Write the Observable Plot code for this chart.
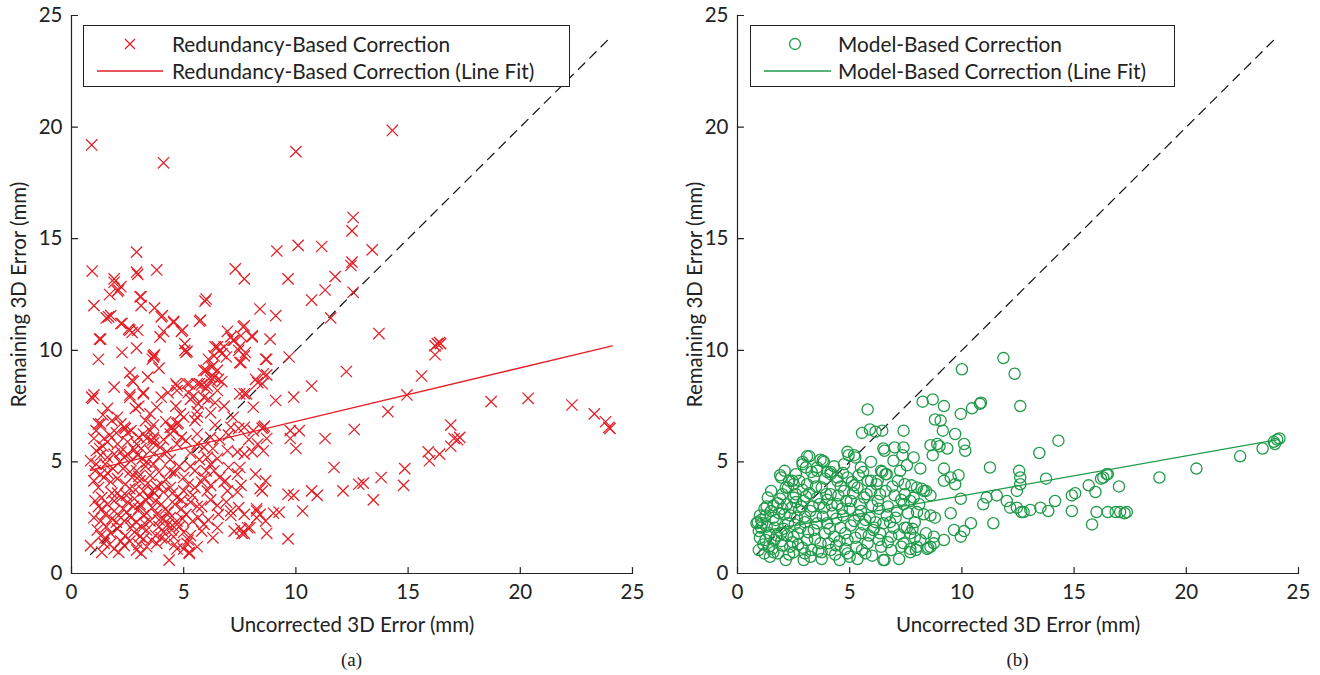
<!DOCTYPE html>
<html><head><meta charset="utf-8">
<script src="https://cdn.jsdelivr.net/npm/d3@7"></script>
<script src="https://cdn.jsdelivr.net/npm/@observablehq/plot@0.6"></script>
<style>
body{margin:0;background:#fff;font-family:Lato,sans-serif;color:#222;}
#wrap{position:relative;width:1320px;height:675px;overflow:hidden;}
.panel{position:absolute;top:0;width:660px;height:675px;}
.legend{position:absolute;border:1px solid #222;background:#fff;box-sizing:border-box;font-family:Lato,sans-serif;font-size:20.8px;color:#222;}
.legend .row{position:absolute;left:0;height:26px;line-height:26px;white-space:nowrap;}
.legend svg{position:absolute;top:0;}
.legend span{position:absolute;top:0;}
.caption{position:absolute;top:649px;font-family:"Liberation Serif",serif;font-size:19px;transform:translateX(-50%);}
</style></head>
<body><div id="wrap"></div>
<script>
// ---------- data ----------
const xTicks = [0, 5, 10, 15, 20, 25];
const yTicks = [0, 5, 10, 15, 20, 25];
const xLabel = "Uncorrected 3D Error (mm)";
const yLabel = "Remaining 3D Error (mm)";
const diagonal = [[0.85, 0.85], [24.1, 24.1]];
const redFit = [[0.85, 4.62], [24.1, 10.2]];
const greenFit = [[0.85, 1.85], [24.1, 6.0]];
const legendRed = ["Redundancy-Based Correction", "Redundancy-Based Correction (Line Fit)"];
const legendGreen = ["Model-Based Correction", "Model-Based Correction (Line Fit)"];
const captions = ["(a)", "(b)"];

const redPoints = [
[0.9,19.2],[4.1,18.4],[10.0,18.9],[14.3,19.85],
[0.92,13.55],[2.9,14.4],[2.9,13.5],[2.95,13.4],[3.8,13.6],[1.9,13.2],[2.1,12.7],[2.05,12.65],[1.7,12.5],[1.0,12.0],[3.1,12.4],[3.1,12.0],[3.7,11.9],[4.0,11.5],[1.65,11.5],[1.55,11.45],[2.25,11.2],[2.6,10.9],[2.55,10.95],[2.95,10.9],[1.3,10.5],[1.2,9.6],[2.25,9.9],[2.9,10.1],[3.95,10.6],[4.1,10.85],[4.55,11.3],[4.9,10.85],[5.05,10.3],[5.1,9.9],[3.65,9.7],[3.7,9.8],[3.6,9.6],[2.6,9.0],[2.75,8.6],[1.9,8.35],[3.2,8.1],[2.6,8.0],[1.0,8.0],[0.9,7.9],[0.95,7.85],[5.7,11.3],[6.0,12.3],[5.95,12.2],[7.3,13.65],[7.7,13.2],[8.4,11.85],[9.1,11.55],[7.65,11.05],[8.05,10.65],[6.95,10.85],[7.2,10.45],[7.1,10.6],[8.85,10.5],[6.4,10.15],[6.6,10.0],[6.7,9.85],[6.1,9.6],[6.3,9.3],[6.0,9.1],[7.5,10.15],[7.75,9.9],[7.5,9.45],[8.7,9.6],[9.7,9.7],[9.15,14.45],[10.1,14.7],[11.15,14.65],[12.55,15.95],[12.5,15.35],[12.5,13.95],[12.45,13.8],[9.65,13.2],[11.75,13.3],[11.3,12.7],[10.7,12.25],[11.55,11.45],[12.55,12.6],[12.25,9.05],[10.7,8.4],[9.9,7.9],[8.3,8.55],[8.55,8.95],[8.7,8.9],[7.5,8.05],[7.8,8.05],[5.7,8.5],[6.2,8.8],[6.5,9.1],[6.7,8.6],[4.65,8.5],[4.7,8.2],[5.15,8.5],[5.2,8.1],[5.6,8.5],[5.8,8.45],[6.0,8.3],
[13.4,14.5],[13.7,10.75],[16.3,10.3],[16.2,10.2],[16.4,10.35],[16.45,10.3],[16.2,9.8],[15.6,8.85],[14.95,8.0],[14.1,7.25],[18.7,7.7],[20.35,7.85],[22.3,7.55],[23.3,7.15],[23.8,6.8],[23.95,6.55],[24.0,6.5],[12.6,6.45],[16.9,6.65],[17.05,6.05],[17.2,6.0],[16.9,5.7],[17.3,6.1],[15.9,5.45],[15.95,5.05],[16.4,5.35],[14.85,4.7],[14.8,3.95],[13.8,4.3],[13.0,4.05],[13.45,3.3],[12.1,3.7],
[1.9,13.05],[2.2,12.85],[3.05,12.4],[4.05,11.55],[1.75,11.55],[2.2,11.2],[2.7,10.8],[4.55,11.25],[4.95,10.9],[5.75,11.35],[7.7,11.1],[8.05,10.6],[7.55,10.65],[7.25,10.45],[6.8,10.15],[6.5,10.15],[6.35,9.75],[6.9,9.7],[7.45,10.0],[7.7,9.75],[7.55,9.45],[5.15,9.95],[5.05,10.0],[8.65,9.6],[1.25,10.5],[3.65,9.75],[2.7,8.65],[5.9,9.1],[6.25,9.25],[6.35,8.8],[6.2,8.65],[6.55,8.7],[4.7,8.4],[5.25,8.5],[6.05,8.4],[6.5,8.2],[2.6,7.9],[3.2,8.05],[3.0,7.5],[2.85,7.4],[1.6,7.4],[2.05,7.0],[1.8,6.85],[1.3,6.7],[2.35,6.55],[3.8,7.45],[3.5,7.15],[3.3,6.85],[3.65,6.65],[4.65,7.5],[4.85,7.15],[4.7,6.7],[4.4,6.55],[5.3,7.8],[5.45,7.95],[5.65,7.6],[5.6,7.25],[5.5,6.85],[5.9,7.9],[6.1,7.8],[6.4,7.65],[6.4,6.65],[7.7,8.05],[8.1,7.45],[8.2,8.7],[8.5,8.5],[8.55,6.55],
[1.2,6.7],[2.2,6.7],[2.4,6.5],[2.65,6.4],[4.75,6.75],[4.5,6.55],[4.55,6.4],[4.4,6.25],[3.5,6.4],[3.65,6.1],[3.6,5.95],[1.0,6.05],[1.45,6.05],[2.05,5.8],[2.9,5.8],[3.65,5.85],[3.2,6.25],[3.35,6.05],[3.95,5.65],[4.25,5.45],[4.7,5.8],[5.1,5.95],[5.6,6.25],[5.6,5.8],[5.9,5.65],[7.1,6.55],[7.45,6.5],[7.7,6.55],[8.1,6.4],[6.95,5.5],[7.4,5.45],[7.7,5.35],[8.05,5.45],[8.55,5.5],[8.7,6.05],[6.05,5.2],[6.2,4.9],[6.35,4.6],[6.5,5.15],[7.0,4.75],[7.5,4.75],[7.4,4.45],[8.2,4.45],[8.5,3.7],[8.65,4.15],[6.8,4.1],[6.95,3.7],[7.4,3.65],[6.2,3.95],[6.5,3.05],[6.55,2.65],[7.1,2.8],[7.45,2.95],[7.7,2.65],[8.25,2.8],[8.25,2.5],[8.65,2.35],[6.5,2.05],[7.25,1.9],[7.55,2.0],[7.7,1.8],[7.95,2.05],[8.7,1.8],[4.35,0.6],[5.0,1.1],[5.25,0.95],[5.15,1.35],
[0.85,5.05],[1.05,4.6],[1.3,5.3],[1.6,5.2],[1.9,5.35],[2.2,5.45],[2.35,5.2],[2.5,5.35],[2.65,5.05],[2.95,5.3],[3.15,5.15],[3.35,5.0],[3.65,4.9],[1.0,4.15],[1.2,3.85],[1.45,4.3],[1.75,4.1],[2.05,4.25],[2.4,4.0],[2.7,4.3],[3.05,4.15],[3.5,4.4],[3.9,4.55],[1.05,3.25],[1.35,3.4],[1.6,3.1],[1.9,3.25],[2.2,3.4],[2.5,3.2],[2.8,3.35],[3.05,3.1],[3.45,3.4],[3.75,3.25],[4.1,3.65],[4.4,3.85],[4.7,3.4],[5.0,3.7],[5.2,4.0],[5.5,3.85],[5.8,4.1],[6.05,3.7],[1.0,2.5],[1.3,2.35],[1.5,2.65],[1.8,2.45],[2.1,2.6],[2.35,2.35],[2.65,2.5],[2.9,2.3],[3.2,2.6],[3.5,2.35],[3.8,2.65],[4.1,2.45],[4.4,2.5],[4.7,2.35],[5.1,2.65],[5.4,2.35],[5.65,2.5],[1.15,1.95],[1.75,1.8],[2.05,2.0],[2.4,1.7],[2.8,1.85],[3.05,1.65],[3.35,1.95],[3.75,1.7],[4.1,1.85],[4.55,1.65],[5.0,1.85],[5.3,1.7],[0.85,1.25],[1.45,1.35],[1.9,1.1],[2.35,1.25],[2.9,1.05],[3.35,1.2],[3.8,1.35],[4.7,1.1],[5.25,0.9],
[9.1,7.75],[9.75,6.4],[10.15,6.4],[10.0,5.6],[9.75,6.05],[8.6,6.6],[8.5,6.5],[11.3,6.05],[11.7,4.75],[12.8,4.0],[10.95,3.5],[10.7,3.7],[10.3,2.8],[9.9,3.5],[9.65,3.55],[9.25,2.75],[9.0,2.7],[8.4,3.8],[9.65,1.55],[7.85,2.05],[7.6,1.8],[8.25,2.9],[8.4,2.65],[7.1,2.6],[6.85,4.15],[7.55,3.95],
[1.4,5.7],[1.7,6.2],[2.5,5.9],[2.8,5.55],[3.1,5.6],[4.1,6.0],[4.9,6.1],[5.3,5.4],[1.25,5.6],[4.4,5.1],[4.8,4.8],[5.5,4.6],[5.9,4.3],[6.6,4.3],[2.3,4.7],[2.9,4.6],[3.3,4.8],[1.6,4.5],[4.2,4.2],[4.6,4.5],[3.2,3.7],[2.6,3.8],[1.8,3.6],[3.8,3.9],[4.6,3.1],[5.3,3.2],[5.8,3.0],[2.3,2.9],[3.0,2.9],[3.6,2.95],[4.2,2.9],[4.9,2.9],[1.35,2.9],[2.7,2.15],[3.25,2.25],[3.9,2.1],[4.5,2.15],[2.2,1.45],[3.2,1.55],[4.2,1.5],[1.5,1.6],[6.1,2.4],[5.8,1.9],[6.2,6.1],[5.7,5.1],[6.0,4.6],
[1.1,5.5],[1.5,4.9],[1.85,4.7],[2.15,5.0],[2.6,4.55],[3.0,4.35],[3.4,4.05],[3.7,3.6],[4.0,3.1],[4.3,2.75],[4.8,2.1],[5.2,1.5],[1.2,3.0],[1.55,2.1],[1.9,2.8],[2.45,2.75],[2.75,3.0],[3.35,2.7],[3.9,2.4],[4.3,2.2],[1.3,1.7],[1.7,1.3],[2.6,1.45],[3.0,1.3],[3.55,1.5],[4.0,1.6],[4.45,1.95],[2.05,3.6],[2.45,3.5],[2.85,3.75],[3.3,3.3],[3.6,3.7],[4.0,4.0],[4.5,3.6],[4.9,3.3],[5.4,3.5],[5.6,3.0],[5.0,4.3],[5.3,4.8],[4.4,4.6],[3.9,5.2],[3.5,5.5],[3.0,6.1],[2.5,6.3],[2.0,6.3],[1.6,5.9],[1.1,6.4],[1.4,7.1],[4.2,6.8],[5.0,7.0],[4.0,7.9],[4.3,8.1],[3.4,8.8],[3.9,9.2],[5.6,7.0],[6.2,7.2],[6.8,7.5],[7.2,7.0],[6.6,6.0],[7.0,6.2],[7.9,6.0],[8.3,5.8],[6.3,5.6],[6.9,3.2],[6.2,3.3],[5.9,2.2],[6.3,1.6],[5.6,1.2],[4.6,1.3],[3.1,0.9],[2.1,0.95],[1.35,0.95],[4.95,2.45],[2.0,2.3],[3.15,2.05],[1.1,4.9],[1.3,4.45]
];

const greenPoints = [
[11.85,9.65],[10.0,9.15],[12.35,8.95],[12.6,7.5],[10.85,7.65],[10.8,7.6],[10.45,7.4],[9.95,7.15],[8.25,7.7],[8.7,7.8],[9.2,7.5],[5.8,7.35],[5.55,6.3],[5.9,6.45],[6.15,6.35],[6.45,6.4],[7.4,6.4],[8.8,6.9],[9.05,6.85],[9.15,6.4],[9.7,6.25],[10.1,5.8],[10.15,5.5],[8.6,5.75],[8.9,5.8],[9.35,5.6],[8.7,5.3],[9.0,5.7],[6.5,5.6],[6.95,5.05],[7.4,5.65],[7.85,5.2],[7.55,4.85],[8.15,4.7],[7.25,4.6],[9.2,4.7],[9.5,4.3],[9.85,4.4],[9.2,4.15],[9.7,4.0],[11.25,4.75],[4.95,5.3],[5.25,5.2],[4.75,4.9],[3.2,5.25],[3.7,5.1],[3.85,5.0],[1.9,4.4],[2.45,4.15],[2.9,4.9],[3.05,4.75],[3.55,4.6],[4.15,4.45],[4.45,4.3],[5.6,4.55],[6.45,4.55],[6.65,4.45],[5.95,4.15],[6.2,4.0],[7.75,3.95],[8.2,3.8],[8.4,3.7],[9.95,3.35],[10.4,2.25],[10.1,1.9],[9.95,1.65],[9.5,2.7],[9.65,1.95],[9.2,1.5],[8.75,1.35],[8.6,1.2],[8.45,1.1],[8.5,1.15],[7.55,2.05],[7.8,2.0],[8.6,2.6],[8.8,2.5],[8.15,1.5],[7.95,1.05],[7.7,0.95],[6.5,0.6],[7.2,0.65],[6.85,1.05],[7.4,1.35],[6.95,2.05],[6.35,1.8],[6.05,1.95],[6.65,2.6],[7.1,2.8],[7.4,3.1],[7.85,3.4],[11.4,2.25],[10.95,3.1],[11.1,3.4],[11.55,3.5],[12.0,3.25],[12.45,2.95],[12.75,2.75],[12.55,4.6],[12.6,4.3],[12.6,4.0],[12.45,3.7],
[14.3,5.95],[13.45,5.4],[15.65,3.95],[15.95,3.65],[16.3,4.3],[16.45,4.45],[16.5,4.45],[16.2,4.25],[17.0,3.9],[13.75,4.25],[14.15,3.25],[13.85,2.8],[13.5,2.95],[13.05,2.85],[12.65,2.75],[12.15,2.95],[14.9,3.5],[15.05,3.6],[14.9,2.8],[16.0,2.75],[16.5,2.75],[16.85,2.75],[17.05,2.75],[17.25,2.7],[17.35,2.75],[15.8,2.2],[18.8,4.3],[20.45,4.7],[22.4,5.25],[23.4,5.6],[23.9,5.9],[24.05,6.0],[24.15,6.05],[23.95,5.8],
[6.55,5.5],[7.0,5.65],[7.35,5.3],[4.9,5.45],[5.2,5.3],[5.95,5.0],[6.4,4.6],[6.6,4.45],[3.1,5.25],[2.9,5.0],[3.8,5.05],[3.55,4.75],[4.0,4.55],[1.95,4.3],[2.3,4.15],[2.5,4.0],[2.0,3.55],[2.25,3.85],[0.9,2.3],[1.1,2.25],[1.05,2.05],[0.95,1.05],[1.2,0.9],[1.4,1.2],[1.5,2.8],[1.4,1.8],[1.65,1.5],
[1.8,3.15],[2.1,2.65],[2.4,2.95],[2.65,2.5],[2.95,3.25],[3.25,2.8],[3.55,3.4],[3.85,2.95],[4.15,3.55],[4.45,3.1],[4.75,3.7],[5.05,3.25],[5.35,3.85],[5.65,3.4],[5.95,3.7],[6.25,3.25],[6.6,3.7],[7.0,3.5],[7.45,3.55],[7.7,3.25],
[1.65,2.05],[1.95,1.8],[2.25,2.25],[2.5,1.65],[2.8,2.05],[3.1,1.5],[3.4,1.95],[3.7,1.35],[4.0,2.25],[4.3,1.65],[4.6,2.05],[4.9,1.5],[5.2,2.35],[5.5,1.8],[5.8,1.35],[6.1,2.05],[6.4,1.2],[6.85,1.65],
[1.8,0.9],[2.15,0.6],[2.5,0.95],[2.95,0.6],[3.3,1.05],[3.75,0.65],[4.15,1.05],[4.55,0.6],[4.9,0.9],[5.35,0.65],[5.7,0.9],[6.55,0.6],
[1.35,3.4],[1.5,3.7],[2.15,3.85],[2.75,4.15],[3.1,4.0],[3.4,4.3],[2.6,3.55],[3.75,3.85],[4.45,4.15],[4.9,4.3],[4.15,4.55],[5.4,4.4],[5.8,4.15],[6.25,4.15],[7.15,4.15],[7.45,4.0],[8.0,3.85],[8.3,3.7],[8.6,3.5],[8.0,2.75],[8.3,2.65],[8.4,1.8],[8.75,1.65],[7.45,2.05],[7.7,1.8],[7.3,1.2],[7.7,1.1],[8.0,1.2],
[1.0,1.6],[1.25,2.6],[1.7,2.4],[2.0,2.9],[2.35,1.2],[2.7,1.3],[3.0,2.3],[3.2,3.6],[3.5,2.55],[3.9,1.8],[4.25,2.7],[4.7,2.6],[5.0,2.9],[5.5,2.8],[5.9,2.5],[6.3,2.9],[3.0,0.9],[4.4,1.25],[2.2,1.7],[1.55,1.1],[1.3,3.0],[2.85,3.0],[4.0,3.3],[5.3,1.2],[6.7,3.0],[5.6,2.2],[4.8,1.1],[6.0,0.8],[3.6,1.0],[2.55,2.2],
[1.0,2.6],[1.15,1.3],[1.3,2.1],[1.45,0.75],[1.6,2.5],[1.75,1.7],[1.85,2.7],[2.0,1.25],[2.05,2.0],[2.2,3.1],[2.3,0.85],[2.35,2.6],[2.45,1.4],[2.6,3.2],[2.7,1.8],[2.75,2.85],[2.9,1.15],[3.0,2.55],[3.05,3.45],[3.15,1.85],[3.25,0.75],[3.35,3.0],[3.45,1.55],[3.55,2.25],[3.65,3.1],[3.75,0.95],[3.8,2.55],[3.95,3.55],[4.05,1.35],[4.1,2.0],[4.2,3.05],[4.35,0.85],[4.4,2.45],[4.5,3.5],[4.55,1.45],[4.65,2.9],[4.8,1.8],[4.85,3.25],[5.0,0.75],[5.05,2.15],[5.15,3.6],[5.25,1.6],[5.4,2.6],[5.45,3.1],[5.55,1.05],[5.7,2.4],[5.75,3.55],[5.85,1.7],[6.0,3.05],[6.15,2.3],[6.3,1.5],[6.35,3.55],[6.5,2.25],[6.7,1.4],[6.8,2.3],[6.9,3.9],[7.05,2.5],[7.2,1.75],[7.3,3.3],[7.6,2.7],[7.9,2.3],[8.1,3.1],[7.9,1.6],[2.1,4.6],[2.6,4.45],[3.3,4.55],[3.9,4.25],[4.3,4.8],[4.7,4.5],[5.1,4.1],[5.5,4.75],[5.2,3.95],[4.6,3.9],[3.5,3.9],[2.9,3.75],[2.5,3.4],[1.9,3.35],[1.6,3.05],[1.2,2.9],[0.85,2.25],[1.05,2.4],[0.95,1.9],[1.25,1.5],[1.6,0.95],[1.95,1.45]
];

// ---------- drawing ----------
const RED = "#e41e26", GREEN = "#1f9a48", INK = "#222";
const tickShape = {draw(ctx, l) { ctx.moveTo(0, 0); ctx.lineTo(0, -l); }};

function makePanel(points, fit, color, symbol, r, sw, ml, mr, yLabelOffset) {
  return Plot.plot({
    width: 660, height: 640,
    marginLeft: ml, marginRight: mr, marginTop: 15, marginBottom: 67,
    x: {domain: [0, 25]},
    y: {domain: [0, 25]},
    style: {fontFamily: "Lato, sans-serif", fontSize: "20.5px", color: INK, background: "transparent", overflow: "visible"},
    marks: [
      Plot.axisX(xTicks, {tickSize: 0, tickPadding: 11, label: xLabel, labelAnchor: "center", labelArrow: "none", labelOffset: 58}),
      Plot.axisY(yTicks, {tickSize: 0, tickPadding: 9, label: yLabel, labelAnchor: "center", labelArrow: "none", labelOffset: yLabelOffset}),
      Plot.ruleY([0], {stroke: INK, strokeWidth: 1.2}),
      Plot.ruleX([0], {stroke: INK, strokeWidth: 1.2}),
      Plot.vector(xTicks, {x: d => d, y: () => 0, length: 6, rotate: 0, anchor: "start", shape: tickShape, stroke: INK, strokeWidth: 1.2}),
      Plot.vector(yTicks, {x: () => 0, y: d => d, length: 6, rotate: 90, anchor: "start", shape: tickShape, stroke: INK, strokeWidth: 1.2}),
      Plot.line(diagonal, {x: d => d[0], y: d => d[1], stroke: "#111", strokeWidth: 1.2, strokeDasharray: "9,7"}),
      Plot.dot(points, {x: d => d[0], y: d => d[1], symbol, r, stroke: color, fill: "none", strokeWidth: sw}),
      Plot.line(fit, {x: d => d[0], y: d => d[1], stroke: color, strokeWidth: 1.3})
    ]
  });
}

function makeLegend(texts, color, symbolSvg, box, symX, lineX1, lineX2, textX) {
  const lg = document.createElement("div");
  lg.className = "legend";
  Object.assign(lg.style, {left: box[0] + "px", top: box[1] + "px", width: box[2] + "px", height: box[3] + "px"});
  lg.innerHTML = `
    <div class="row" style="top:5px;width:100%">
      <svg width="${textX}" height="26">${symbolSvg(symX, 13)}</svg>
      <span style="left:${textX}px">${texts[0]}</span>
    </div>
    <div class="row" style="top:32px;width:100%">
      <svg width="${textX}" height="26"><line x1="${lineX1}" x2="${lineX2}" y1="13" y2="13" stroke="${color}" stroke-width="1.3"/></svg>
      <span style="left:${textX}px">${texts[1]}</span>
    </div>`;
  return lg;
}

const wrap = document.getElementById("wrap");
const specs = [
  {pts: redPoints, fit: redFit, color: RED, symbol: "times", r: 5.2, sw: 1.25, ml: 71, mr: 28, ylo: 60, left: 0,
   legend: legendRed, box: [83, 25, 487, 62], symX: 46, l1: 13, l2: 79, tx: 88,
   sym: (x, y) => `<path d="M${x-5},${y-5}L${x+5},${y+5}M${x-5},${y+5}L${x+5},${y-5}" stroke="${RED}" stroke-width="1.3"/>`},
  {pts: greenPoints, fit: greenFit, color: GREEN, symbol: "circle", r: 5.6, sw: 1.3, ml: 77, mr: 22, ylo: 50, left: 660,
   legend: legendGreen, box: [750, 25, 425, 62], symX: 44, l1: 13, l2: 80, tx: 87,
   sym: (x, y) => `<circle cx="${x}" cy="${y}" r="5.5" fill="none" stroke="${GREEN}" stroke-width="1.3"/>`}
];
specs.forEach((s, i) => {
  const p = document.createElement("div");
  p.className = "panel";
  p.style.left = s.left + "px";
  p.appendChild(makePanel(s.pts, s.fit, s.color, s.symbol, s.r, s.sw, s.ml, s.mr, s.ylo));
  const lg = makeLegend(s.legend, s.color, s.sym, [s.box[0] - s.left, s.box[1], s.box[2], s.box[3]], s.symX, s.l1, s.l2, s.tx);
  p.appendChild(lg);
  const cap = document.createElement("div");
  cap.className = "caption";
  cap.style.left = ((s.ml + 660 - s.mr) / 2) + "px";
  cap.textContent = captions[i];
  p.appendChild(cap);
  wrap.appendChild(p);
});
</script>
</body></html>
